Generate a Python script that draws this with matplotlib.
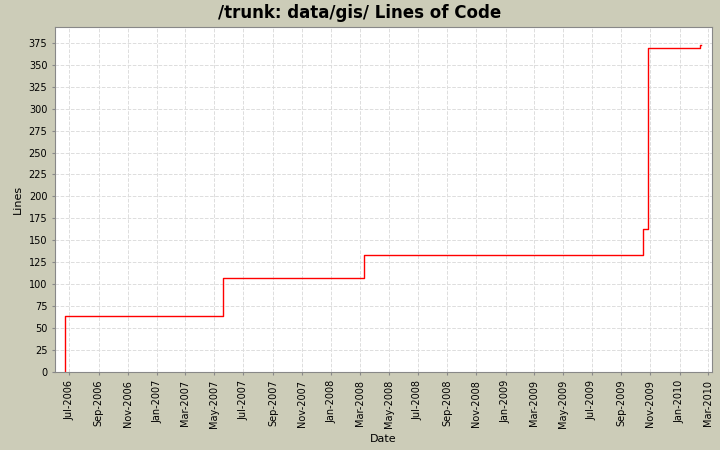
import matplotlib
matplotlib.use("Agg")
import matplotlib.pyplot as plt
import matplotlib.dates as mdates
from datetime import datetime

dates = ["2006-06-23", "2006-06-23", "2007-05-19", "2008-03-10", "2009-10-16", "2009-10-26", "2010-02-12", "2010-02-15"]
lines = [0, 64, 107, 133, 163, 369, 373, 373]

x = [datetime.strptime(d, "%Y-%m-%d") for d in dates]

fig = plt.figure(figsize=(7.2, 4.5), dpi=100, facecolor="#CCCCB8")
ax = fig.add_axes([55/720, 1-372/450, 657/720, 345/450])
ax.set_facecolor("white")
ax.plot(x, lines, color="red", lw=1, drawstyle="steps-post")
ax.set_xlim(datetime(2006, 6, 1), datetime(2010, 3, 10))
ax.set_ylim(0, 393)
ax.set_yticks(range(0, 376, 25))
ax.xaxis.set_major_locator(mdates.MonthLocator(bymonth=[1, 3, 5, 7, 9, 11]))
ax.xaxis.set_major_formatter(mdates.DateFormatter("%b-%Y"))
for lab in ax.get_xticklabels():
    lab.set_rotation(90)
ax.tick_params(labelsize=7, length=2, color="#888888")
ax.grid(True, color="#dddddd", linestyle="--", linewidth=0.7)
for s in ax.spines.values():
    s.set_color("#888888")
ax.set_xlabel("Date", fontsize=8)
ax.set_ylabel("Lines", fontsize=8)
fig.suptitle("/trunk: data/gis/ Lines of Code", fontsize=12, fontweight="bold", y=0.99)
fig.savefig("out.png", dpi=100, facecolor=fig.get_facecolor())
